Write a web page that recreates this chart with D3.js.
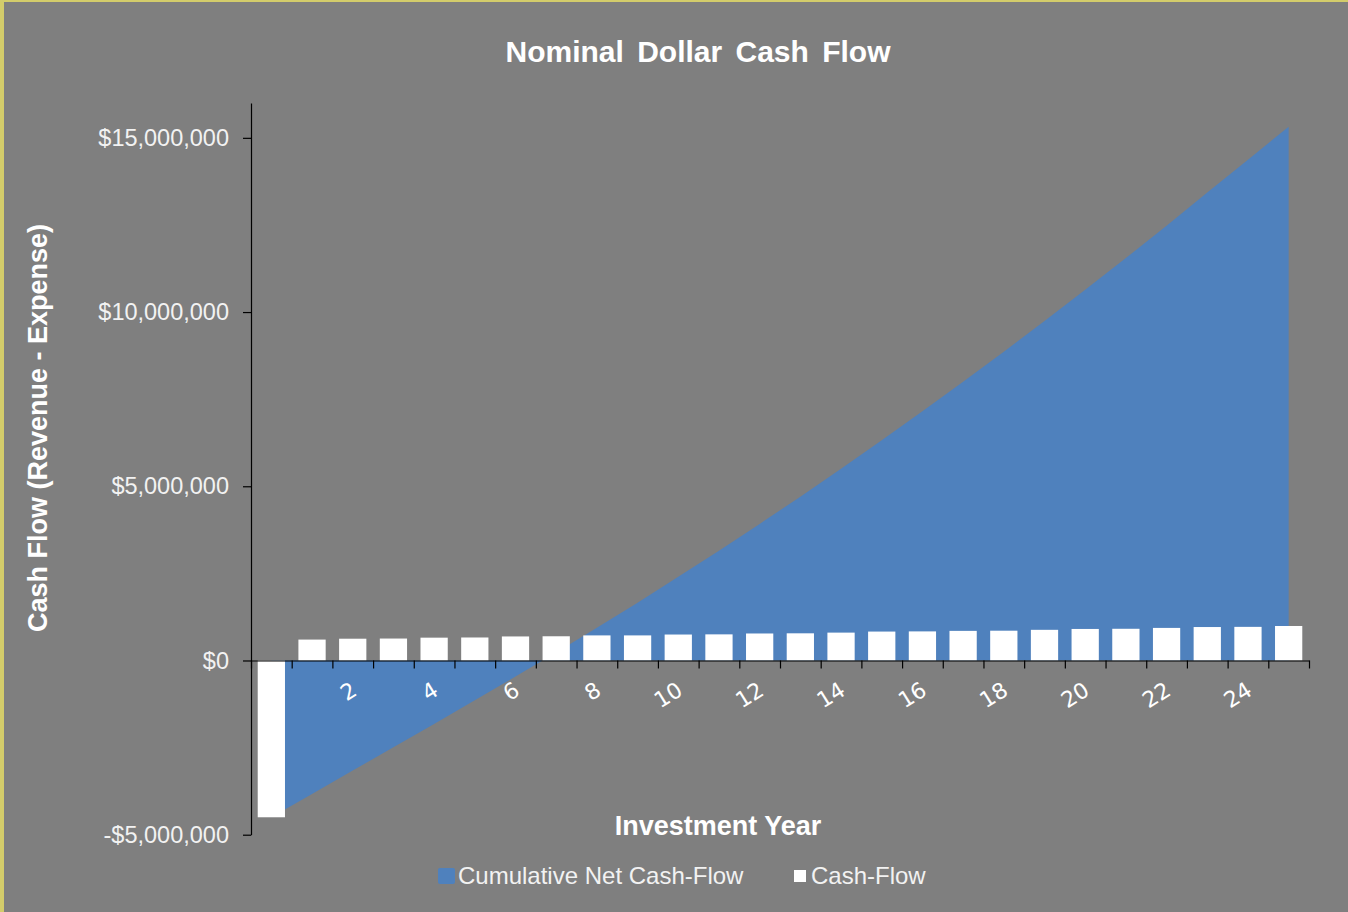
<!DOCTYPE html>
<html>
<head>
<meta charset="utf-8">
<script src="https://cdn.jsdelivr.net/npm/d3@7"></script>
<style>
  body { margin: 0; background: #7f7f7f; }
  svg { display: block; }
</style>
</head>
<body>
<div id="chart"></div>
<script>
// investment years 0..25
const years = d3.range(0, 26);
// yearly cash flow (revenue - expense)
const cashFlow = [-4500000, 600000, 625000, 630000, 655000, 660000, 690000, 695000, 720000, 720000,
  745000, 750000, 775000, 780000, 800000, 830000, 835000, 850000, 855000, 880000,
  905000, 910000, 935000, 960000, 965000, 990000];
// cumulative net cash flow
const cumulative = [-4500000, -3830000, -3160000, -2490000, -1820000, -1140000, -460000, 230000, 940000, 1660000,
  2400000, 3150000, 3920000, 4700000, 5500000, 6320000, 7150000, 8000000, 8860000, 9740000,
  10640000, 11550000, 12480000, 13430000, 14370000, 15320000];
const yTicks = [-5000000, 0, 5000000, 10000000, 15000000];
const xLabelYears = d3.range(0, 25, 2);

const W = 1348, H = 912;
const svg = d3.select('#chart').append('svg')
  .attr('width', W)
  .attr('height', H);

svg.append('rect').attr('width', W).attr('height', H).attr('fill', '#7f7f7f');
// yellow frame on top / left
svg.append('rect').attr('x', 0).attr('y', 0).attr('width', W).attr('height', 2).attr('fill', '#d3cc6b');
svg.append('rect').attr('x', 0).attr('y', 0).attr('width', 4).attr('height', H).attr('fill', '#d3cc6b');

const plotL = 251, plotR = 1309, plotT = 103, plotB = 834.7;

let x = d3.scaleBand()
  .domain(years)
  .range([plotL, plotR])
  .paddingInner(0.33)
  .paddingOuter(0.165);

let xEdge = d3.scaleLinear().domain([0, years.length]).range([plotL, plotR]);

let y = d3.scaleLinear()
  .domain([-5000000, 16000000])
  .range([plotB, plotT]);

const cx = d => x(d) + x.bandwidth() / 2;

// cumulative area (behind everything)
let area = d3.area()
  .x((d, i) => cx(years[i]))
  .y0(y(0))
  .y1(d => y(d));

svg.append('path')
  .datum(cumulative)
  .attr('d', area)
  .attr('fill', '#4f81bd');

// x tick labels (drawn under the bars, the "0" hides behind the first bar)
svg.append('g').selectAll('text.xlab').data(xLabelYears)
  .join('text')
  .attr('class', 'xlab')
  .attr('transform', d => `translate(${cx(d) - 3},${680}) rotate(-32)`)
  .attr('text-anchor', 'end')
  .attr('dy', '0.75em')
  .attr('fill', '#ffffff')
  .style('font-family', "'Comic Sans MS', 'DejaVu Sans', sans-serif")
  .style('font-size', '22px')
  .text(d => d);

// cash flow bars
svg.append('g').selectAll('rect.bar').data(cashFlow)
  .join('rect')
  .attr('class', 'bar')
  .attr('x', (d, i) => x(years[i]))
  .attr('width', x.bandwidth())
  .attr('y', d => y(Math.max(0, d)))
  .attr('height', d => Math.abs(y(d) - y(0)))
  .attr('fill', '#ffffff');

// y axis
let fmt = d => (d < 0 ? '-' : '') + '$' + d3.format(',')(Math.abs(d));
let yAxis = svg.append('g')
  .attr('transform', `translate(${plotL},0)`)
  .call(d3.axisLeft(y).tickValues(yTicks).tickFormat(fmt).tickSize(8).tickPadding(14).tickSizeOuter(0));
yAxis.select('.domain').attr('stroke', '#000').attr('stroke-width', 1.2);
yAxis.selectAll('.tick line').attr('stroke', '#000').attr('stroke-width', 1.2);
yAxis.selectAll('.tick text')
  .attr('fill', '#f2f2f2')
  .style('font-family', "'Liberation Sans', Arial, sans-serif")
  .style('font-size', '23.5px');

// x axis line + category boundary ticks
let xAxis = svg.append('g')
  .attr('transform', `translate(0,${y(0)})`)
  .call(d3.axisBottom(xEdge).tickValues(d3.range(years.length + 1)).tickFormat('').tickSize(8).tickSizeOuter(0));
xAxis.select('.domain').attr('stroke', '#000').attr('stroke-width', 1.2);
xAxis.selectAll('.tick line').attr('stroke', '#000').attr('stroke-width', 1.2);

// titles
svg.append('text')
  .attr('x', 698).attr('y', 62)
  .attr('text-anchor', 'middle')
  .attr('fill', '#ffffff')
  .style('font-family', "'Liberation Sans', Arial, sans-serif")
  .style('font-weight', 'bold')
  .style('font-size', '30px')
  .style('word-spacing', '5px')
  .text('Nominal Dollar Cash Flow');

svg.append('text')
  .attr('transform', 'translate(47,428) rotate(-90)')
  .attr('text-anchor', 'middle')
  .attr('fill', '#ffffff')
  .style('font-family', "'Liberation Sans', Arial, sans-serif")
  .style('font-weight', 'bold')
  .style('font-size', '27px')
  .text('Cash Flow (Revenue - Expense)');

svg.append('text')
  .attr('x', 718).attr('y', 835)
  .attr('text-anchor', 'middle')
  .attr('fill', '#ffffff')
  .style('font-family', "'Liberation Sans', Arial, sans-serif")
  .style('font-weight', 'bold')
  .style('font-size', '27px')
  .text('Investment Year');

// legend
let legend = svg.append('g').style('font-family', "'Liberation Sans', Arial, sans-serif").style('font-size', '24px');
legend.append('rect').attr('x', 438).attr('y', 868).attr('width', 17).attr('height', 16).attr('rx', 2).attr('fill', '#4f81bd');
legend.append('text').attr('x', 458).attr('y', 884).attr('fill', '#f2f2f2').text('Cumulative Net Cash-Flow');
legend.append('rect').attr('x', 794).attr('y', 870).attr('width', 12).attr('height', 12).attr('fill', '#ffffff');
legend.append('text').attr('x', 811).attr('y', 884).attr('fill', '#f2f2f2').text('Cash-Flow');
</script>
</body>
</html>
